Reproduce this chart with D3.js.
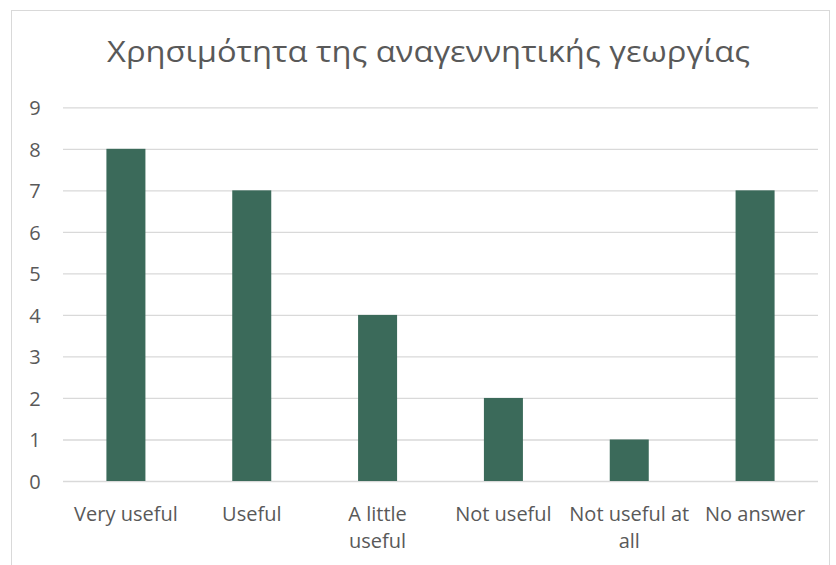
<!DOCTYPE html>
<html><head><meta charset="utf-8">
<script src="https://cdn.jsdelivr.net/npm/d3@7"></script>
<style>body{margin:0;background:#fff}svg{display:block}</style>
</head><body>
<svg id="c" width="836" height="565"></svg>
<script>
const title = "Χρησιμότητα της αναγεννητικής γεωργίας";
const categories = ["Very useful", "Useful", "A little\nuseful", "Not useful", "Not useful at\nall", "No answer"];
const values = [8, 7, 4, 2, 1, 7];
const yTicks = [0, 1, 2, 3, 4, 5, 6, 7, 8, 9];

const svg = d3.select("#c");
const font = "'Open Sans', sans-serif";
const textCol = "#595959";
const m = {left: 63, right: 818, top: 107.3, bottom: 481};

svg.append("rect").attr("x", 11.5).attr("y", 10.5).attr("width", 818).attr("height", 570)
  .attr("fill", "#fff").attr("stroke", "#d9d9d9").attr("stroke-width", 1);

const x = d3.scaleBand().domain(categories).range([m.left, m.right]).paddingInner(0.69).paddingOuter(0.345);
const y = d3.scaleLinear().domain([0, 9]).range([m.bottom, m.top]);

svg.append("text").attr("x", 428.5).attr("y", 62).attr("text-anchor", "middle")
  .attr("font-family", font).attr("font-size", 29).attr("fill", textCol)
  .attr("textLength", 643).attr("lengthAdjust", "spacingAndGlyphs").text(title);

const yAxis = d3.axisLeft(y).tickValues(yTicks).tickSize(-(m.right - m.left)).tickPadding(16).tickFormat(d3.format("d"));
const gy = svg.append("g").attr("transform", `translate(${m.left},0)`).call(yAxis);
gy.select(".domain").remove();
gy.selectAll(".tick line").attr("stroke", "#d9d9d9").attr("stroke-width", 1.3);
gy.selectAll(".tick text").attr("font-family", font).attr("font-size", 20).attr("fill", textCol)
  .attr("text-anchor", "middle").attr("x", -28).attr("dy", "0.36em");

svg.append("g").selectAll("rect").data(values).join("rect")
  .attr("x", (d, i) => x(categories[i]))
  .attr("width", x.bandwidth())
  .attr("y", d => y(d))
  .attr("height", d => y(0) - y(d))
  .attr("fill", "#3b6a5a");

const xAxis = d3.axisBottom(x).tickSize(0).tickPadding(0);
const gx = svg.append("g").attr("transform", `translate(0,${m.bottom})`).call(xAxis);
gx.select(".domain").remove();
gx.selectAll(".tick text").each(function(d) {
  const t = d3.select(this);
  t.text(null).attr("font-family", font).attr("font-size", 20).attr("fill", textCol).attr("y", 0).attr("dy", null);
  d.split("\n").forEach((line, k) => {
    t.append("tspan").attr("x", 0).attr("y", 40 + k * 27).text(line);
  });
});
</script>
</body></html>
